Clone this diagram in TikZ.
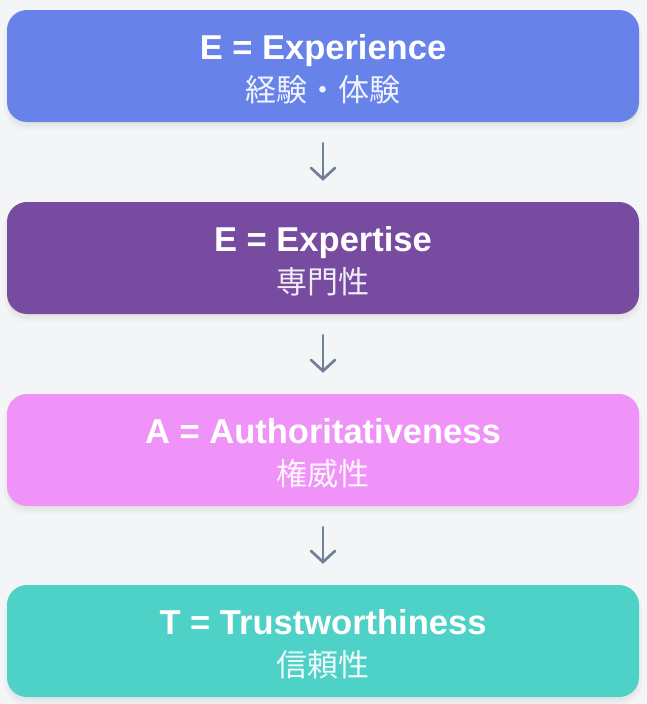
\documentclass[tikz,border=0pt]{standalone}
\usepackage{fontspec}
\setmainfont{Liberation Sans}
\newfontfamily\jpfont{Noto Sans CJK JP}
\usetikzlibrary{positioning,arrows.meta}

\definecolor{bgcol}{HTML}{F4F5F7}
\definecolor{expcol}{HTML}{6782E8}
\definecolor{skillcol}{HTML}{764BA0}
\definecolor{authcol}{HTML}{F093F8}
\definecolor{trustcol}{HTML}{4ED1C6}
\definecolor{arrowcol}{HTML}{718096}

\newcommand{\headline}[1]{{\bfseries\rule{0pt}{32pt}#1}}
\newcommand{\subline}[2]{{\jpfont\fontsize{31}{40}\selectfont\color{white!90!#1}#2}}

\begin{document}
\begin{tikzpicture}[x=1pt,y=-1pt,
	stage/.style={fill=#1, rounded corners=20pt, minimum width=632pt, minimum height=112pt,
		align=center, text=white, font=\fontsize{34.5}{42}\selectfont,
		preaction={fill=black, opacity=0.025, draw=black, line width=6pt, transform canvas={yshift=-5pt}},
		preaction={fill=black, opacity=0.04, transform canvas={yshift=-2pt}}},
	flow/.style={draw=arrowcol, line width=2.7pt, line cap=round, line join=round,
		-{Straight Barb[length=11pt,width=24pt,line cap=round]}, shorten >=21pt, shorten <=21pt}]
		\fill[bgcol] (0,0) rectangle (647,704);
		% the four stages
		\node[stage=expcol] (exp) at (323,66) {\headline{E = Experience}\\\subline{expcol}{経験・体験}};
		\node[stage=skillcol] (skill) at (323,258) {\headline{E = Expertise}\\\subline{skillcol}{専門性}};
		\node[stage=authcol] (auth) at (323,450) {\headline{A = Authoritativeness}\\\subline{authcol}{権威性}};
		\node[stage=trustcol] (trust) at (323,641) {\headline{T = Trustworthiness}\\\subline{trustcol}{信頼性}};
		% arrows between them
		\draw[flow] (exp) -- (skill);
		\draw[flow] (skill) -- (auth);
		\draw[flow] (auth) -- (trust);
	\end{tikzpicture}
\end{document}
